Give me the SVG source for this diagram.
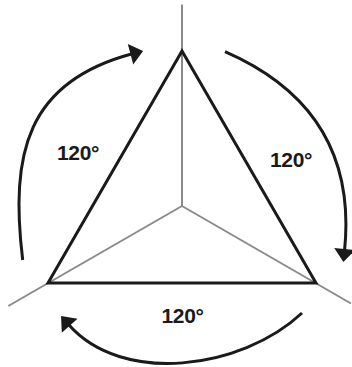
<svg xmlns="http://www.w3.org/2000/svg" width="352" height="367" viewBox="0 0 352 367">
  <style>
    .axis { stroke: #8a8a8a; stroke-width: 2; fill: none; }
    .tri { stroke: #1a1a1a; stroke-width: 3; fill: none; stroke-linejoin: miter; }
    .arc { stroke: #1a1a1a; stroke-width: 3; fill: none; }
    .lbl { font-family: "Liberation Sans", Arial, sans-serif; font-weight: bold; font-size: 21px; fill: #1a1a1a; text-anchor: middle; letter-spacing: -0.3px; }
  </style>
  <defs>
    <marker id="arrow" markerUnits="userSpaceOnUse" markerWidth="24" markerHeight="24" refX="1" refY="0" viewBox="0 -12 16 24" orient="auto">
      <path d="M0,-10.5 L13,0 L0,10.5 z" fill="#1a1a1a"/>
    </marker>
  </defs>
  <rect width="352" height="367" fill="#ffffff"/>
  <g id="axes">
    <line class="axis" x1="182" y1="206" x2="182" y2="4.5"/>
    <line class="axis" x1="182" y1="206" x2="8.3" y2="306"/>
    <line class="axis" x1="182" y1="206" x2="351" y2="303.5"/>
  </g>
  <g id="triangle">
    <polygon class="tri" points="182,51 48,283 316,283"/>
  </g>
  <g id="connectors">
    <path class="arc" d="M22.7,260 C9.7,153 27.2,82 131.5,54" marker-end="url(#arrow)"/>
    <path class="arc" d="M225,51.7 C312,89.7 354.1,155 344.6,250" marker-end="url(#arrow)"/>
    <path class="arc" d="M302,313 C241,370 122,385 69,325" marker-end="url(#arrow)"/>
  </g>
  <g id="label-left"><text class="lbl" x="78" y="159.5">120°</text></g>
  <g id="label-right"><text class="lbl" x="291" y="166.7">120°</text></g>
  <g id="label-bottom"><text class="lbl" x="182.5" y="323">120°</text></g>
</svg>
